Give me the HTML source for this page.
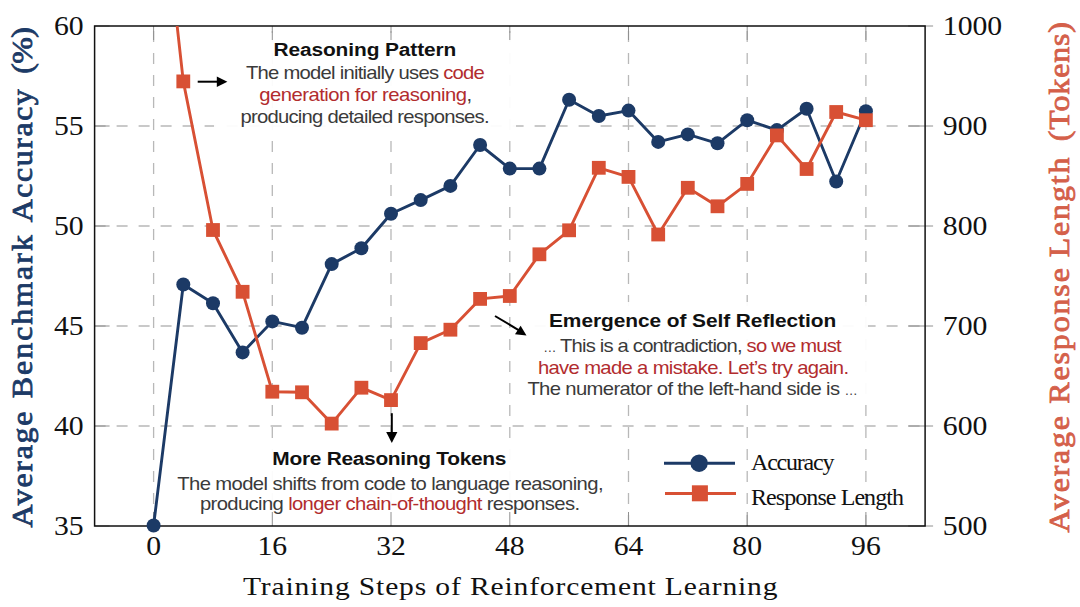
<!DOCTYPE html>
<html><head><meta charset="utf-8"><style>
html,body{margin:0;padding:0;background:#fff;}
body{width:1080px;height:607px;position:relative;overflow:hidden;}
svg{position:absolute;left:0;top:0;}
</style></head><body>
<svg width="1080" height="607" viewBox="0 0 1080 607">
<line x1="94.6" y1="126" x2="925.1" y2="126" stroke="#b8b8b8" stroke-width="1.3" stroke-dasharray="11 11"/>
<line x1="94.6" y1="226" x2="925.1" y2="226" stroke="#b8b8b8" stroke-width="1.3" stroke-dasharray="11 11"/>
<line x1="94.6" y1="326" x2="925.1" y2="326" stroke="#b8b8b8" stroke-width="1.3" stroke-dasharray="11 11"/>
<line x1="94.6" y1="426" x2="925.1" y2="426" stroke="#b8b8b8" stroke-width="1.3" stroke-dasharray="11 11"/>
<line x1="153.6" y1="526" x2="153.6" y2="26" stroke="#b8b8b8" stroke-width="1.3" stroke-dasharray="11 11"/>
<line x1="272.3" y1="526" x2="272.3" y2="26" stroke="#b8b8b8" stroke-width="1.3" stroke-dasharray="11 11"/>
<line x1="391.0" y1="526" x2="391.0" y2="26" stroke="#b8b8b8" stroke-width="1.3" stroke-dasharray="11 11"/>
<line x1="509.8" y1="526" x2="509.8" y2="26" stroke="#b8b8b8" stroke-width="1.3" stroke-dasharray="11 11"/>
<line x1="628.5" y1="526" x2="628.5" y2="26" stroke="#b8b8b8" stroke-width="1.3" stroke-dasharray="11 11"/>
<line x1="747.2" y1="526" x2="747.2" y2="26" stroke="#b8b8b8" stroke-width="1.3" stroke-dasharray="11 11"/>
<line x1="865.9" y1="526" x2="865.9" y2="26" stroke="#b8b8b8" stroke-width="1.3" stroke-dasharray="11 11"/>
<rect x="214" y="33" width="302" height="106.5" fill="#fff" fill-opacity="0.94"/>
<rect x="511.5" y="302" width="356.5" height="103" fill="#fff" fill-opacity="0.94"/>
<rect x="170" y="439" width="440" height="87" fill="#fff" fill-opacity="0.94"/>
<line x1="94.6" y1="26" x2="109.6" y2="26" stroke="#909090" stroke-width="1.0"/>
<line x1="908.1" y1="26" x2="933.1" y2="26" stroke="#909090" stroke-width="1.0"/>
<line x1="94.6" y1="126" x2="109.6" y2="126" stroke="#909090" stroke-width="1.0"/>
<line x1="908.1" y1="126" x2="933.1" y2="126" stroke="#909090" stroke-width="1.0"/>
<line x1="94.6" y1="226" x2="109.6" y2="226" stroke="#909090" stroke-width="1.0"/>
<line x1="908.1" y1="226" x2="933.1" y2="226" stroke="#909090" stroke-width="1.0"/>
<line x1="94.6" y1="326" x2="109.6" y2="326" stroke="#909090" stroke-width="1.0"/>
<line x1="908.1" y1="326" x2="933.1" y2="326" stroke="#909090" stroke-width="1.0"/>
<line x1="94.6" y1="426" x2="109.6" y2="426" stroke="#909090" stroke-width="1.0"/>
<line x1="908.1" y1="426" x2="933.1" y2="426" stroke="#909090" stroke-width="1.0"/>
<line x1="94.6" y1="526" x2="109.6" y2="526" stroke="#909090" stroke-width="1.0"/>
<line x1="908.1" y1="526" x2="933.1" y2="526" stroke="#909090" stroke-width="1.0"/>
<line x1="153.6" y1="526" x2="153.6" y2="512" stroke="#909090" stroke-width="1.0"/>
<line x1="153.6" y1="26" x2="153.6" y2="40" stroke="#909090" stroke-width="1.0"/>
<line x1="272.3" y1="526" x2="272.3" y2="512" stroke="#909090" stroke-width="1.0"/>
<line x1="272.3" y1="26" x2="272.3" y2="40" stroke="#909090" stroke-width="1.0"/>
<line x1="391.0" y1="526" x2="391.0" y2="512" stroke="#909090" stroke-width="1.0"/>
<line x1="391.0" y1="26" x2="391.0" y2="40" stroke="#909090" stroke-width="1.0"/>
<line x1="509.8" y1="526" x2="509.8" y2="512" stroke="#909090" stroke-width="1.0"/>
<line x1="509.8" y1="26" x2="509.8" y2="40" stroke="#909090" stroke-width="1.0"/>
<line x1="628.5" y1="526" x2="628.5" y2="512" stroke="#909090" stroke-width="1.0"/>
<line x1="628.5" y1="26" x2="628.5" y2="40" stroke="#909090" stroke-width="1.0"/>
<line x1="747.2" y1="526" x2="747.2" y2="512" stroke="#909090" stroke-width="1.0"/>
<line x1="747.2" y1="26" x2="747.2" y2="40" stroke="#909090" stroke-width="1.0"/>
<line x1="865.9" y1="526" x2="865.9" y2="512" stroke="#909090" stroke-width="1.0"/>
<line x1="865.9" y1="26" x2="865.9" y2="40" stroke="#909090" stroke-width="1.0"/>
<rect x="94.6" y="26" width="830.5" height="500" fill="none" stroke="#111" stroke-width="1.5"/>
<clipPath id="c"><rect x="94.6" y="26" width="830.5" height="500"/></clipPath>
<polyline clip-path="url(#c)" points="153.6,525.5 183.3,284.5 213.0,303.3 242.6,352.4 272.3,321.4 302.0,327.7 331.7,264.1 361.4,248.2 391.0,213.8 420.7,200.1 450.4,185.9 480.1,145 509.8,168.6 539.4,168.6 569.1,99.7 598.8,116 628.5,110.6 658.2,141.9 687.8,134.4 717.5,143.3 747.2,120.2 776.9,130.1 806.6,108.7 836.2,181.5 865.9,111.3" fill="none" stroke="#1c3a66" stroke-width="2.9" stroke-linejoin="round"/>
<circle cx="153.6" cy="525.5" r="7" fill="#1c3a66"/>
<circle cx="183.3" cy="284.5" r="7" fill="#1c3a66"/>
<circle cx="213.0" cy="303.3" r="7" fill="#1c3a66"/>
<circle cx="242.6" cy="352.4" r="7" fill="#1c3a66"/>
<circle cx="272.3" cy="321.4" r="7" fill="#1c3a66"/>
<circle cx="302.0" cy="327.7" r="7" fill="#1c3a66"/>
<circle cx="331.7" cy="264.1" r="7" fill="#1c3a66"/>
<circle cx="361.4" cy="248.2" r="7" fill="#1c3a66"/>
<circle cx="391.0" cy="213.8" r="7" fill="#1c3a66"/>
<circle cx="420.7" cy="200.1" r="7" fill="#1c3a66"/>
<circle cx="450.4" cy="185.9" r="7" fill="#1c3a66"/>
<circle cx="480.1" cy="145" r="7" fill="#1c3a66"/>
<circle cx="509.8" cy="168.6" r="7" fill="#1c3a66"/>
<circle cx="539.4" cy="168.6" r="7" fill="#1c3a66"/>
<circle cx="569.1" cy="99.7" r="7" fill="#1c3a66"/>
<circle cx="598.8" cy="116" r="7" fill="#1c3a66"/>
<circle cx="628.5" cy="110.6" r="7" fill="#1c3a66"/>
<circle cx="658.2" cy="141.9" r="7" fill="#1c3a66"/>
<circle cx="687.8" cy="134.4" r="7" fill="#1c3a66"/>
<circle cx="717.5" cy="143.3" r="7" fill="#1c3a66"/>
<circle cx="747.2" cy="120.2" r="7" fill="#1c3a66"/>
<circle cx="776.9" cy="130.1" r="7" fill="#1c3a66"/>
<circle cx="806.6" cy="108.7" r="7" fill="#1c3a66"/>
<circle cx="836.2" cy="181.5" r="7" fill="#1c3a66"/>
<circle cx="865.9" cy="111.3" r="7" fill="#1c3a66"/>
<polyline clip-path="url(#c)" points="153.6,-186 183.3,81.4 213.0,230 242.6,291.8 272.3,391.7 302.0,392.3 331.7,423.6 361.4,387.7 391.0,400.1 420.7,343.1 450.4,329.7 480.1,298.9 509.8,296 539.4,254.3 569.1,230.3 598.8,167.8 628.5,176.9 658.2,234.5 687.8,187.8 717.5,206.3 747.2,183.9 776.9,135.4 806.6,169 836.2,112 865.9,120.2" fill="none" stroke="#d85034" stroke-width="2.9" stroke-linejoin="round"/>
<rect x="176.4" y="74.5" width="13.8" height="13.8" fill="#d85034"/>
<rect x="206.1" y="223.1" width="13.8" height="13.8" fill="#d85034"/>
<rect x="235.7" y="284.9" width="13.8" height="13.8" fill="#d85034"/>
<rect x="265.4" y="384.8" width="13.8" height="13.8" fill="#d85034"/>
<rect x="295.1" y="385.4" width="13.8" height="13.8" fill="#d85034"/>
<rect x="324.8" y="416.7" width="13.8" height="13.8" fill="#d85034"/>
<rect x="354.5" y="380.8" width="13.8" height="13.8" fill="#d85034"/>
<rect x="384.1" y="393.2" width="13.8" height="13.8" fill="#d85034"/>
<rect x="413.8" y="336.2" width="13.8" height="13.8" fill="#d85034"/>
<rect x="443.5" y="322.8" width="13.8" height="13.8" fill="#d85034"/>
<rect x="473.2" y="292.0" width="13.8" height="13.8" fill="#d85034"/>
<rect x="502.9" y="289.1" width="13.8" height="13.8" fill="#d85034"/>
<rect x="532.5" y="247.4" width="13.8" height="13.8" fill="#d85034"/>
<rect x="562.2" y="223.4" width="13.8" height="13.8" fill="#d85034"/>
<rect x="591.9" y="160.9" width="13.8" height="13.8" fill="#d85034"/>
<rect x="621.6" y="170.0" width="13.8" height="13.8" fill="#d85034"/>
<rect x="651.3" y="227.6" width="13.8" height="13.8" fill="#d85034"/>
<rect x="680.9" y="180.9" width="13.8" height="13.8" fill="#d85034"/>
<rect x="710.6" y="199.4" width="13.8" height="13.8" fill="#d85034"/>
<rect x="740.3" y="177.0" width="13.8" height="13.8" fill="#d85034"/>
<rect x="770.0" y="128.5" width="13.8" height="13.8" fill="#d85034"/>
<rect x="799.7" y="162.1" width="13.8" height="13.8" fill="#d85034"/>
<rect x="829.3" y="105.1" width="13.8" height="13.8" fill="#d85034"/>
<rect x="859.0" y="113.3" width="13.8" height="13.8" fill="#d85034"/>
<line x1="197.7" y1="81.7" x2="218" y2="81.7" stroke="#000" stroke-width="2"/>
<polygon points="216.8,76.5 227.4,81.7 216.8,86.9" fill="#000"/>
<line x1="391.8" y1="413.2" x2="391.8" y2="433" stroke="#000" stroke-width="2"/>
<polygon points="386.2,432 397.4,432 391.8,443" fill="#000"/>
<line x1="495" y1="316" x2="519" y2="330.3" stroke="#000" stroke-width="2"/>
<polygon points="526.5,335.5 515,334.2 520.6,325.8" fill="#000"/>
<line x1="664" y1="463.2" x2="735" y2="463.2" stroke="#1c3a66" stroke-width="3"/>
<circle cx="699.1" cy="463.2" r="8.7" fill="#1c3a66"/>
<line x1="665" y1="493.5" x2="736" y2="493.5" stroke="#d85034" stroke-width="3"/>
<rect x="691.9" y="485.3" width="16" height="16" fill="#d85034"/>
<text transform="translate(83.6,35.3) scale(1.1,1)" x="0" y="0" font-family="Liberation Serif" font-size="27" fill="#111" text-anchor="end">60</text>
<text transform="translate(83.6,135.3) scale(1.1,1)" x="0" y="0" font-family="Liberation Serif" font-size="27" fill="#111" text-anchor="end">55</text>
<text transform="translate(83.6,235.3) scale(1.1,1)" x="0" y="0" font-family="Liberation Serif" font-size="27" fill="#111" text-anchor="end">50</text>
<text transform="translate(83.6,335.3) scale(1.1,1)" x="0" y="0" font-family="Liberation Serif" font-size="27" fill="#111" text-anchor="end">45</text>
<text transform="translate(83.6,435.3) scale(1.1,1)" x="0" y="0" font-family="Liberation Serif" font-size="27" fill="#111" text-anchor="end">40</text>
<text transform="translate(83.6,535.3) scale(1.1,1)" x="0" y="0" font-family="Liberation Serif" font-size="27" fill="#111" text-anchor="end">35</text>
<text transform="translate(942.8,35.3) scale(1.1,1)" x="0" y="0" font-family="Liberation Serif" font-size="27" fill="#111" text-anchor="start">1000</text>
<text transform="translate(942.8,135.3) scale(1.1,1)" x="0" y="0" font-family="Liberation Serif" font-size="27" fill="#111" text-anchor="start">900</text>
<text transform="translate(942.8,235.3) scale(1.1,1)" x="0" y="0" font-family="Liberation Serif" font-size="27" fill="#111" text-anchor="start">800</text>
<text transform="translate(942.8,335.3) scale(1.1,1)" x="0" y="0" font-family="Liberation Serif" font-size="27" fill="#111" text-anchor="start">700</text>
<text transform="translate(942.8,435.3) scale(1.1,1)" x="0" y="0" font-family="Liberation Serif" font-size="27" fill="#111" text-anchor="start">600</text>
<text transform="translate(942.8,535.3) scale(1.1,1)" x="0" y="0" font-family="Liberation Serif" font-size="27" fill="#111" text-anchor="start">500</text>
<text transform="translate(153.6,554.5) scale(1.1,1)" x="0" y="0" font-family="Liberation Serif" font-size="27" fill="#111" text-anchor="middle">0</text>
<text transform="translate(272.3,554.5) scale(1.1,1)" x="0" y="0" font-family="Liberation Serif" font-size="27" fill="#111" text-anchor="middle">16</text>
<text transform="translate(391.0,554.5) scale(1.1,1)" x="0" y="0" font-family="Liberation Serif" font-size="27" fill="#111" text-anchor="middle">32</text>
<text transform="translate(509.8,554.5) scale(1.1,1)" x="0" y="0" font-family="Liberation Serif" font-size="27" fill="#111" text-anchor="middle">48</text>
<text transform="translate(628.5,554.5) scale(1.1,1)" x="0" y="0" font-family="Liberation Serif" font-size="27" fill="#111" text-anchor="middle">64</text>
<text transform="translate(747.2,554.5) scale(1.1,1)" x="0" y="0" font-family="Liberation Serif" font-size="27" fill="#111" text-anchor="middle">80</text>
<text transform="translate(865.9,554.5) scale(1.1,1)" x="0" y="0" font-family="Liberation Serif" font-size="27" fill="#111" text-anchor="middle">96</text>
<text transform="translate(364.9,56.3) scale(1.1,1)" x="0" y="0" font-family="Liberation Sans" font-size="19" font-weight="bold" text-anchor="middle" textLength="166.3" lengthAdjust="spacing"><tspan fill="#111">Reasoning Pattern</tspan></text>
<text transform="translate(365.4,79.3) scale(1.1,1)" x="0" y="0" font-family="Liberation Sans" font-size="18.4" font-weight="normal" text-anchor="middle" textLength="217.2" lengthAdjust="spacing"><tspan fill="#3a3a3a">The model initially uses </tspan><tspan fill="#b22c2e">code</tspan></text>
<text transform="translate(365.6,100.7) scale(1.1,1)" x="0" y="0" font-family="Liberation Sans" font-size="18.4" font-weight="normal" text-anchor="middle" textLength="193.5" lengthAdjust="spacing"><tspan fill="#b22c2e">generation for reasoning</tspan><tspan fill="#3a3a3a">,</tspan></text>
<text transform="translate(365.0,123) scale(1.1,1)" x="0" y="0" font-family="Liberation Sans" font-size="18.4" font-weight="normal" text-anchor="middle" textLength="226.5" lengthAdjust="spacing"><tspan fill="#3a3a3a">producing detailed responses.</tspan></text>
<text transform="translate(692.6,327.2) scale(1.1,1)" x="0" y="0" font-family="Liberation Sans" font-size="19" font-weight="bold" text-anchor="middle" textLength="261.1" lengthAdjust="spacing"><tspan fill="#111">Emergence of Self Reflection</tspan></text>
<text transform="translate(692.4,352) scale(1.1,1)" x="0" y="0" font-family="Liberation Sans" font-size="18.4" font-weight="normal" text-anchor="middle" textLength="271.4" lengthAdjust="spacing"><tspan fill="#3a3a3a"><tspan font-size="12">…</tspan> This is a contradiction, </tspan><tspan fill="#b22c2e">so we must</tspan></text>
<text transform="translate(693.5,374.2) scale(1.1,1)" x="0" y="0" font-family="Liberation Sans" font-size="18.4" font-weight="normal" text-anchor="middle" textLength="282.9" lengthAdjust="spacing"><tspan fill="#b22c2e">have made a mistake. Let’s try again.</tspan></text>
<text transform="translate(692.5,395.3) scale(1.1,1)" x="0" y="0" font-family="Liberation Sans" font-size="18.4" font-weight="normal" text-anchor="middle" textLength="300.2" lengthAdjust="spacing"><tspan fill="#3a3a3a">The numerator of the left-hand side is <tspan font-size="12">…</tspan></tspan></text>
<text transform="translate(389.4,464.8) scale(1.1,1)" x="0" y="0" font-family="Liberation Sans" font-size="19" font-weight="bold" text-anchor="middle" textLength="212.8" lengthAdjust="spacing"><tspan fill="#111">More Reasoning Tokens</tspan></text>
<text transform="translate(390.4,489.5) scale(1.1,1)" x="0" y="0" font-family="Liberation Sans" font-size="18.4" font-weight="normal" text-anchor="middle" textLength="387.5" lengthAdjust="spacing"><tspan fill="#3a3a3a">The model shifts from code to language reasoning,</tspan></text>
<text transform="translate(390.0,509.9) scale(1.1,1)" x="0" y="0" font-family="Liberation Sans" font-size="18.4" font-weight="normal" text-anchor="middle" textLength="345.6" lengthAdjust="spacing"><tspan fill="#3a3a3a">producing </tspan><tspan fill="#b22c2e">longer chain-of-thought</tspan><tspan fill="#3a3a3a"> responses.</tspan></text>
<text transform="translate(31.7,527.6) rotate(-90) scale(1.08,1)" x="0" y="0" font-family="Liberation Serif" font-size="29.5" fill="#1c3a66" stroke="#1c3a66" stroke-width="0.8" textLength="107.41" lengthAdjust="spacing">Average</text>
<text transform="translate(31.7,398.3) rotate(-90) scale(1.08,1)" x="0" y="0" font-family="Liberation Serif" font-size="29.5" fill="#1c3a66" stroke="#1c3a66" stroke-width="0.8" textLength="151.11" lengthAdjust="spacing">Benchmark</text>
<text transform="translate(31.7,222.2) rotate(-90) scale(1.08,1)" x="0" y="0" font-family="Liberation Serif" font-size="29.5" fill="#1c3a66" stroke="#1c3a66" stroke-width="0.8" textLength="123.15" lengthAdjust="spacing">Accuracy</text>
<text transform="translate(31.7,73.8) rotate(-90) scale(1.08,1)" x="0" y="0" font-family="Liberation Serif" font-size="29.5" fill="#1c3a66" stroke="#1c3a66" stroke-width="0.8" textLength="43.33" lengthAdjust="spacing">(%)</text>
<text transform="translate(1068.6,532.5) rotate(-90) scale(1.08,1)" x="0" y="0" font-family="Liberation Serif" font-size="29.5" fill="#d4604a" stroke="#d4604a" stroke-width="0.8" textLength="107.78" lengthAdjust="spacing">Average</text>
<text transform="translate(1068.6,403.7) rotate(-90) scale(1.08,1)" x="0" y="0" font-family="Liberation Serif" font-size="29.5" fill="#d4604a" stroke="#d4604a" stroke-width="0.8" textLength="125.46" lengthAdjust="spacing">Response</text>
<text transform="translate(1068.6,257.3) rotate(-90) scale(1.08,1)" x="0" y="0" font-family="Liberation Serif" font-size="29.5" fill="#d4604a" stroke="#d4604a" stroke-width="0.8" textLength="92.41" lengthAdjust="spacing">Length</text>
<text transform="translate(1068.6,141.2) rotate(-90) scale(1.08,1)" x="0" y="0" font-family="Liberation Serif" font-size="29.5" fill="#d4604a" stroke="#d4604a" stroke-width="0.8" textLength="110.37" lengthAdjust="spacing">(Tokens)</text>
<text transform="translate(243,595.3) scale(1.15,1)" x="0" y="0" font-family="Liberation Serif" font-size="25.7" fill="#111" textLength="464.8" lengthAdjust="spacing">Training Steps of Reinforcement Learning</text>
<text x="751" y="470.2" font-family="Liberation Serif" font-size="24" font-weight="normal" fill="#111" text-anchor="start" textLength="83.5" lengthAdjust="spacing" >Accuracy</text>
<text x="751" y="505.2" font-family="Liberation Serif" font-size="24" font-weight="normal" fill="#111" text-anchor="start" textLength="153" lengthAdjust="spacing" >Response Length</text>
</svg>
</body></html>
